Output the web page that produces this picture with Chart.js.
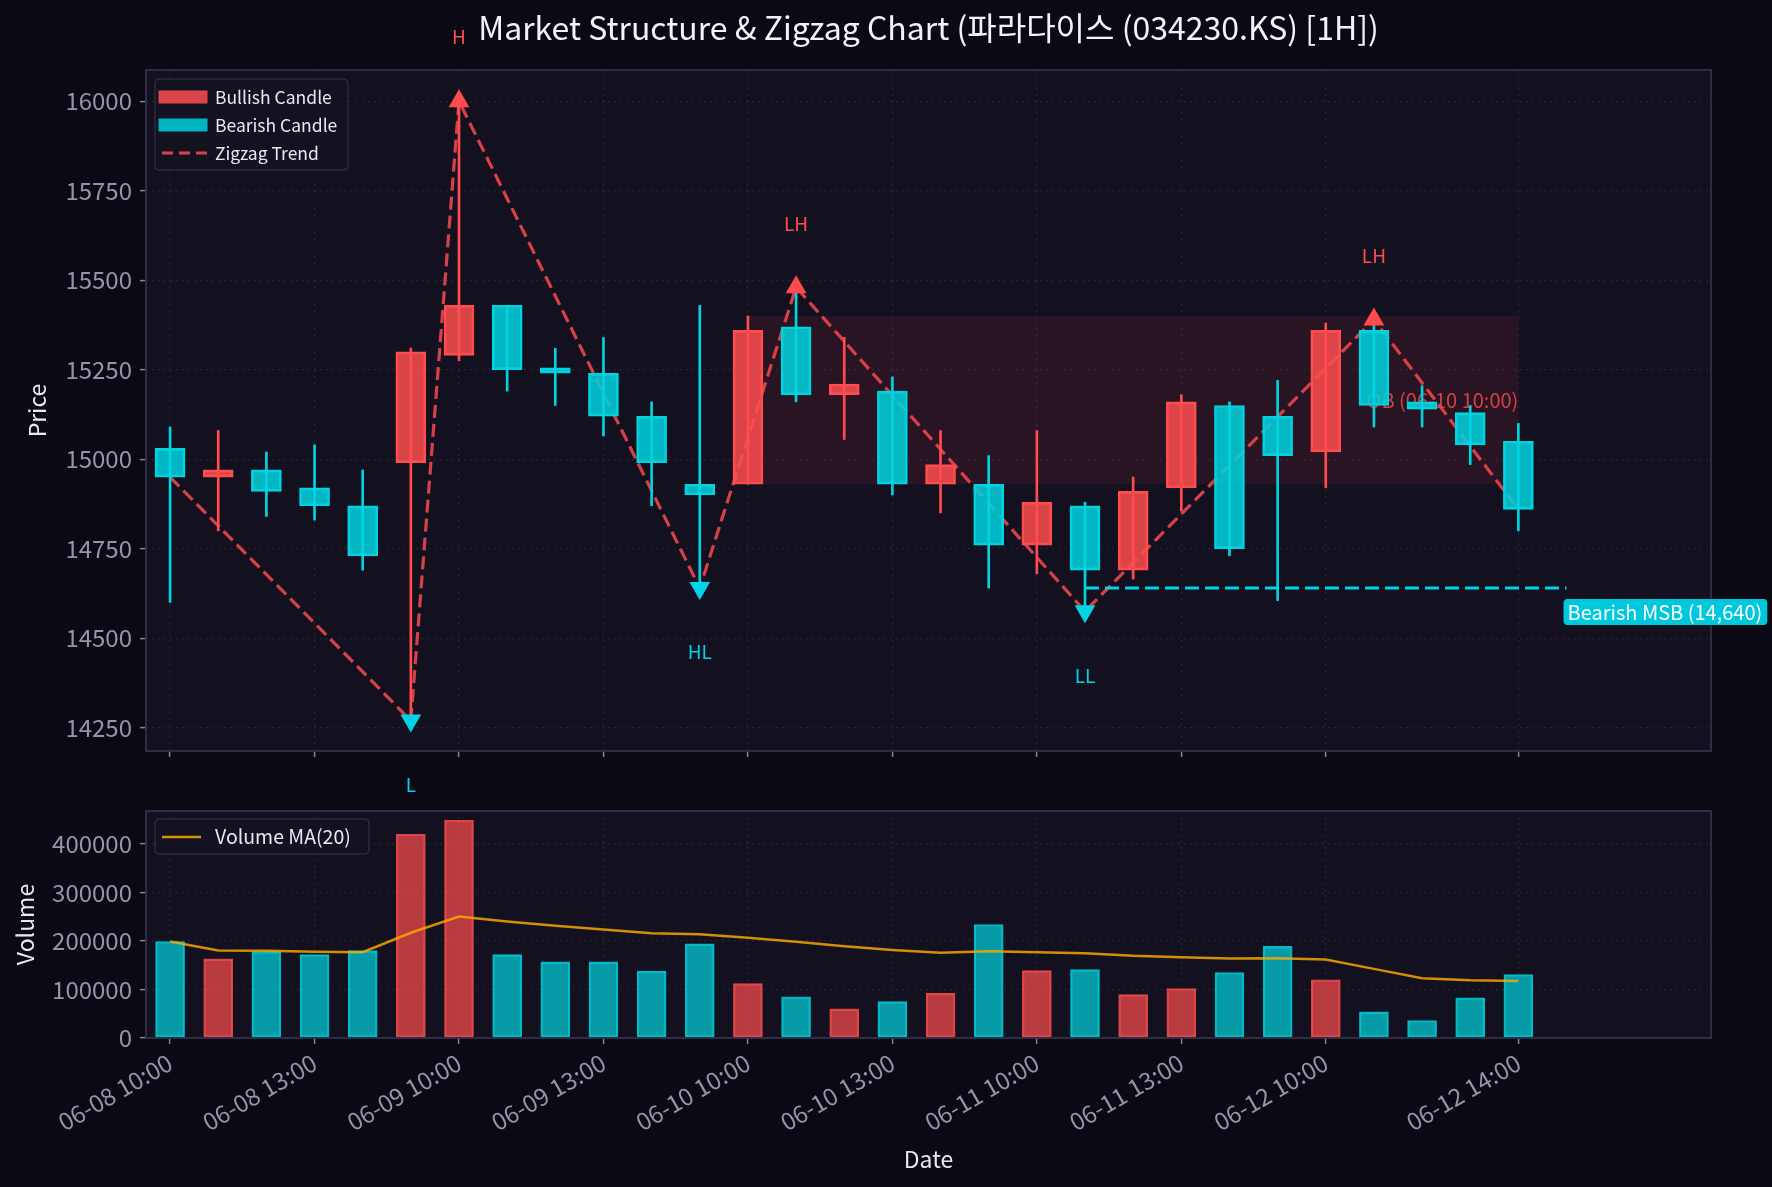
<!DOCTYPE html>
<html><head><meta charset="utf-8">
<script src="https://cdn.jsdelivr.net/npm/chart.js@4.4.1/dist/chart.umd.min.js"></script>
<style>
html,body{margin:0;padding:0;background:#0b0a14;overflow:hidden;}
#wrap{position:relative;width:1772px;height:1187px;background:#0b0a14;}
canvas{position:absolute;left:0;top:0;}
</style></head><body>
<div id="wrap"><canvas id="c1" width="1772" height="1187"></canvas><canvas id="c2" width="1772" height="1187"></canvas></div>
<script>
// ---------------- data ----------------
const times = ['06-08 10:00','06-08 11:00','06-08 12:00','06-08 13:00','06-08 14:00','06-08 15:00',
               '06-09 10:00','06-09 11:00','06-09 12:00','06-09 13:00','06-09 14:00','06-09 15:00',
               '06-10 10:00','06-10 11:00','06-10 12:00','06-10 13:00','06-10 14:00','06-10 15:00',
               '06-11 10:00','06-11 11:00','06-11 12:00','06-11 13:00','06-11 14:00','06-11 15:00',
               '06-12 10:00','06-12 11:00','06-12 12:00','06-12 13:00','06-12 14:00'];
const opens  = [15030,14950,14970,14920,14870,14990,15290,15430,15255,15240,15120,14930,14930,15370,15180,15190,14930,14930,14760,14870,14690,14920,15150,15120,15020,15360,15160,15130,15050];
const highs  = [15090,15080,15020,15040,14970,15310,16000,15430,15310,15340,15160,15430,15400,15480,15340,15230,15080,15010,15080,14880,14950,15180,15160,15220,15380,15390,15205,15150,15100];
const lows   = [14600,14800,14840,14830,14690,14270,15275,15190,15150,15065,14870,14640,14930,15160,15055,14900,14850,14640,14680,14575,14665,14855,14730,14605,14920,15090,15090,14985,14800];
const closes = [14950,14970,14910,14870,14730,15300,15430,15250,15240,15120,14990,14900,15360,15180,15210,14930,14985,14760,14880,14690,14910,15160,14750,15010,15360,15150,15140,15040,14860];
const volumes = [199000,163000,178000,172000,180000,420000,449000,172000,157000,157000,138000,194000,112000,85000,60000,75000,92000,234000,139000,141000,89500,102000,135000,189000,120000,54000,36000,83000,131000];
const volumeMA = [199000,180400,179700,177600,176900,216900,250600,240300,231300,223800,216200,214100,206600,198300,189300,181400,175600,179000,176900,174900,169400,166600,163900,164600,161800,142500,123200,119100,117700];

const priceTicks  = [14250,14500,14750,15000,15250,15500,15750,16000];
const volumeTicks = [0,100000,200000,300000,400000];
const xTickIdx    = [0,3,6,9,12,15,18,21,24,28];
const priceRange  = [14185,16087];
const volumeRange = [0,468000];
const xRange      = [-0.5,32];

const zigzagIdx   = [0,5,6,11,13,19,25,28];
const zigzagPrice = [14950,14270,16000,14640,15480,14575,15390,14860];
const pivotIdx    = [5,6,11,13,19,25];
const pivotPrice  = [14270,16000,14640,15480,14575,15390];
const pivotLabels = ['L','H','HL','LH','LL','LH'];
const pivotKind   = ['low','high','low','high','low','high'];

const msbIdx   = [19,29];
const msbLevel = [14640,14640];
const msbText  = 'Bearish MSB (14,640)';
const obIdx    = [12,28];
const obRange  = [14930,15400];
const obText   = 'OB (06-10 10:00)';

const titleText = 'Market Structure & Zigzag Chart (파라다이스 (034230.KS) [1H])';
const legendPrice = ['Bullish Candle','Bearish Candle','Zigzag Trend'];
const legendVolume = ['Volume MA(20)'];

// ---------------- styles ----------------
const FONT = '"Noto Sans CJK KR", "Noto Sans", sans-serif';
const TICK_COLOR = '#9694a6';
const LABEL_COLOR = '#e8e8ef';
const RED = '#ff4d4f', CYAN = '#00d4e0';
const RED_FILL = 'rgba(255,77,79,0.85)', CYAN_FILL = 'rgba(0,212,224,0.85)';
const AX_BG = '#13111f', FRAME = '#2f2d44';
const isBull = opens.map((o,i) => closes[i] >= o);

function gridOpts(){
  return {color:'rgba(255,255,255,0.085)', lineWidth:1.2, drawTicks:true, tickLength:6, offset:false,
          tickColor:'#85839a', tickWidth:1.5, tickBorderDash:[]};
}
function setTicks(arr){ return s => { s.ticks = arr.map(v => ({value:v})); }; }

const panelPlugin = {
  id:'panel',
  beforeDraw(chart){
    const {ctx, chartArea:a} = chart;
    ctx.save(); ctx.fillStyle = AX_BG; ctx.fillRect(a.left, a.top, a.right-a.left, a.bottom-a.top); ctx.restore();
  },
  afterDraw(chart){
    const {ctx, chartArea:a} = chart;
    ctx.save(); ctx.strokeStyle = FRAME; ctx.lineWidth = 2;
    ctx.strokeRect(a.left, a.top, a.right-a.left, a.bottom-a.top); ctx.restore();
  }
};

function roundRect(ctx,x,y,w,h,r){
  ctx.beginPath(); ctx.moveTo(x+r,y); ctx.lineTo(x+w-r,y); ctx.quadraticCurveTo(x+w,y,x+w,y+r);
  ctx.lineTo(x+w,y+h-r); ctx.quadraticCurveTo(x+w,y+h,x+w-r,y+h); ctx.lineTo(x+r,y+h);
  ctx.quadraticCurveTo(x,y+h,x,y+h-r); ctx.lineTo(x,y+r); ctx.quadraticCurveTo(x,y,x+r,y); ctx.closePath();
}

const pricePlugin = {
  id:'priceExtras',
  beforeDatasetsDraw(chart){
    const {ctx, scales:{x,y}} = chart;
    ctx.save();
    const x0 = x.getPixelForValue(obIdx[0]), x1 = x.getPixelForValue(obIdx[1]);
    const y0 = y.getPixelForValue(obRange[1]), y1 = y.getPixelForValue(obRange[0]);
    ctx.fillStyle = 'rgba(255,60,75,0.09)';
    ctx.fillRect(x0, y0, x1-x0, y1-y0);
    ctx.font = '20px ' + FONT; ctx.fillStyle = 'rgba(255,77,79,0.8)';
    ctx.textAlign = 'right'; ctx.textBaseline = 'middle';
    ctx.fillText(obText, x1, y.getPixelForValue((obRange[0]+obRange[1])/2));
    ctx.restore();
  },
  afterDraw(chart){
    const {ctx, scales:{x,y}, chartArea:a} = chart;
    ctx.save();
    ctx.font = '19px ' + FONT; ctx.textAlign = 'center'; ctx.textBaseline = 'middle';
    pivotIdx.forEach((pi,k) => {
      const px = x.getPixelForValue(pi), py = y.getPixelForValue(pivotPrice[k]);
      const hi = pivotKind[k] === 'high';
      ctx.fillStyle = hi ? RED : CYAN;
      ctx.fillText(pivotLabels[k], px, hi ? py - 64 : py + 64);
    });
    ctx.font = '20px ' + FONT; ctx.textAlign = 'left'; ctx.textBaseline = 'middle';
    const mx = x.getPixelForValue(msbIdx[1]), my = y.getPixelForValue(msbLevel[1]);
    const tw = ctx.measureText(msbText).width;
    ctx.fillStyle = '#00c8dc'; roundRect(ctx, mx-3, my+11, tw+9, 26, 4); ctx.fill();
    ctx.fillStyle = '#ffffff'; ctx.fillText(msbText, mx+1, my+24.5);
    ctx.font = '32px ' + FONT; ctx.fillStyle = '#f2f2f7'; ctx.textAlign = 'center';
    ctx.fillText(titleText, (a.left+a.right)/2, 28);
    const lx = a.left + 9, ly = a.top + 9;
    ctx.fillStyle = 'rgba(20,18,34,0.92)'; roundRect(ctx, lx, ly, 193, 91, 5); ctx.fill();
    ctx.strokeStyle = '#2c2a40'; ctx.lineWidth = 1.5; ctx.stroke();
    const rows = [ly+18, ly+46, ly+74];
    ctx.fillStyle = 'rgba(255,77,79,0.85)'; ctx.fillRect(lx+4, rows[0]-6, 48, 12);
    ctx.strokeStyle = 'rgba(230,70,75,1)'; ctx.lineWidth=1; ctx.strokeRect(lx+4, rows[0]-6, 48, 12);
    ctx.fillStyle = 'rgba(0,200,212,0.9)'; ctx.fillRect(lx+4, rows[1]-6, 48, 12);
    ctx.strokeStyle = 'rgba(0,180,195,1)'; ctx.strokeRect(lx+4, rows[1]-6, 48, 12);
    ctx.strokeStyle = 'rgba(230,70,75,0.95)'; ctx.lineWidth = 3; ctx.setLineDash([11,6]);
    ctx.beginPath(); ctx.moveTo(lx+7, rows[2]); ctx.lineTo(lx+52, rows[2]); ctx.stroke(); ctx.setLineDash([]);
    ctx.font = '17.5px ' + FONT; ctx.textAlign = 'left'; ctx.fillStyle = LABEL_COLOR;
    legendPrice.forEach((t,i) => ctx.fillText(t, lx+60, rows[i]));
    ctx.restore();
  }
};

const volumePlugin = {
  id:'volExtras',
  afterDraw(chart){
    const {ctx, chartArea:a} = chart;
    ctx.save();
    const lx = a.left + 9, ly = a.top + 8;
    ctx.fillStyle = 'rgba(20,18,34,0.92)'; roundRect(ctx, lx, ly, 214, 35, 5); ctx.fill();
    ctx.strokeStyle = '#2c2a40'; ctx.lineWidth = 1.5; ctx.stroke();
    ctx.strokeStyle = 'rgba(255,168,0,0.85)'; ctx.lineWidth = 2.5;
    ctx.beginPath(); ctx.moveTo(lx+7, ly+18); ctx.lineTo(lx+46, ly+18); ctx.stroke();
    ctx.font = '19.5px ' + FONT; ctx.fillStyle = LABEL_COLOR; ctx.textAlign='left'; ctx.textBaseline='middle';
    ctx.fillText(legendVolume[0], lx+60, ly+18);
    ctx.restore();
  }
};

Chart.defaults.font.family = FONT;

new Chart(document.getElementById('c1'), {
  type:'bar',
  data:{ datasets:[
    { type:'line', data: zigzagIdx.map((v,i)=>({x:v,y:zigzagPrice[i]})), borderColor:'rgba(232,68,74,0.92)',
      borderWidth:3.2, borderDash:[13,6], pointRadius:0, tension:0, order:10 },
    { type:'line', data: msbIdx.map((v,i)=>({x:v,y:msbLevel[i]})), borderColor:'#00d4e6',
      borderWidth:3, borderDash:[14,6], pointRadius:0, order:9 },
    { type:'bar', grouped:false, data: opens.map((o,i)=>({x:i,y:[o,closes[i]]})),
      backgroundColor: isBull.map(b=>b?RED_FILL:CYAN_FILL), borderColor: isBull.map(b=>b?RED:CYAN),
      borderWidth:2, borderSkipped:false, barThickness:30, order:5 },
    { type:'bar', grouped:false, data: lows.map((l,i)=>({x:i,y:[l,highs[i]]})),
      backgroundColor: isBull.map(b=>b?RED:CYAN), borderWidth:0, barThickness:2, order:4 },
    { type:'scatter', data: pivotIdx.map((v,i)=>({x:v,y:pivotPrice[i]})).filter((p,i)=>pivotKind[i]==='high'),
      pointStyle:'triangle', pointRadius:12, backgroundColor:'#ff4b4f', borderWidth:0, order:1 },
    { type:'scatter', data: pivotIdx.map((v,i)=>({x:v,y:pivotPrice[i]})).filter((p,i)=>pivotKind[i]==='low'),
      pointStyle:'triangle', rotation:180, pointRadius:12, backgroundColor:'#00d4e6', borderWidth:0, order:1 }
  ]},
  options:{
    responsive:false, devicePixelRatio:1, animation:false, events:[],
    layout:{ padding:{ left:0, right:61, top:70, bottom:426 } },
    plugins:{ legend:{display:false}, tooltip:{enabled:false}, title:{display:false} },
    scales:{
      x:{ type:'linear', offset:false, min:xRange[0], max:xRange[1], afterBuildTicks:setTicks(xTickIdx),
          ticks:{display:false}, grid:gridOpts(), border:{display:false, dash:[2,4]},
          afterFit:s=>{ s.height = 10; } },
      y:{ type:'linear', min:priceRange[0], max:priceRange[1], afterBuildTicks:setTicks(priceTicks),
          ticks:{ color:TICK_COLOR, font:{family:FONT,size:24}, padding:8, callback:v=>String(v) },
          grid:gridOpts(), border:{display:false, dash:[2,4]},
          title:{display:true, text:'Price', color:LABEL_COLOR, font:{family:FONT,size:23}, padding:{top:23,bottom:0}},
          afterFit:s=>{ s.width = 146; } }
    }
  },
  plugins:[panelPlugin, pricePlugin]
});

new Chart(document.getElementById('c2'), {
  type:'bar',
  data:{ datasets:[
    { type:'line', data: volumeMA.map((v,i)=>({x:i,y:v})), borderColor:'rgba(255,168,0,0.82)',
      borderWidth:2.5, pointRadius:0, tension:0, order:1 },
    { type:'bar', grouped:false, data: volumes.map((v,i)=>({x:i,y:v})),
      backgroundColor: isBull.map(b=>b?'rgba(255,77,79,0.7)':'rgba(0,212,224,0.7)'),
      borderColor: isBull.map(b=>b?'rgba(255,77,79,0.85)':'rgba(0,212,224,0.85)'),
      borderWidth:1.5, borderSkipped:false, barThickness:29, order:5 }
  ]},
  options:{
    responsive:false, devicePixelRatio:1, animation:false, events:[],
    layout:{ padding:{ left:0, right:61, top:811, bottom:0 } },
    plugins:{ legend:{display:false}, tooltip:{enabled:false} },
    scales:{
      x:{ type:'linear', offset:false, min:xRange[0], max:xRange[1], afterBuildTicks:setTicks(xTickIdx),
          ticks:{ color:TICK_COLOR, font:{family:FONT,size:24}, padding:4, autoSkip:false,
                  minRotation:30, maxRotation:30, callback:v=>times[Math.round(v)] },
          grid:gridOpts(), border:{display:false, dash:[2,4]},
          title:{display:true, text:'Date', color:LABEL_COLOR, font:{family:FONT,size:23}, padding:{top:0,bottom:14}},
          afterFit:s=>{ s.height = 149; } },
      y:{ type:'linear', min:volumeRange[0], max:volumeRange[1], afterBuildTicks:setTicks(volumeTicks),
          ticks:{ color:TICK_COLOR, font:{family:FONT,size:24}, padding:8, callback:v=>String(v) },
          grid:gridOpts(), border:{display:false, dash:[2,4]},
          title:{display:true, text:'Volume', color:LABEL_COLOR, font:{family:FONT,size:23}, padding:{top:11,bottom:0}},
          afterFit:s=>{ s.width = 146; } }
    }
  },
  plugins:[panelPlugin, volumePlugin]
});
</script>
</body></html>
